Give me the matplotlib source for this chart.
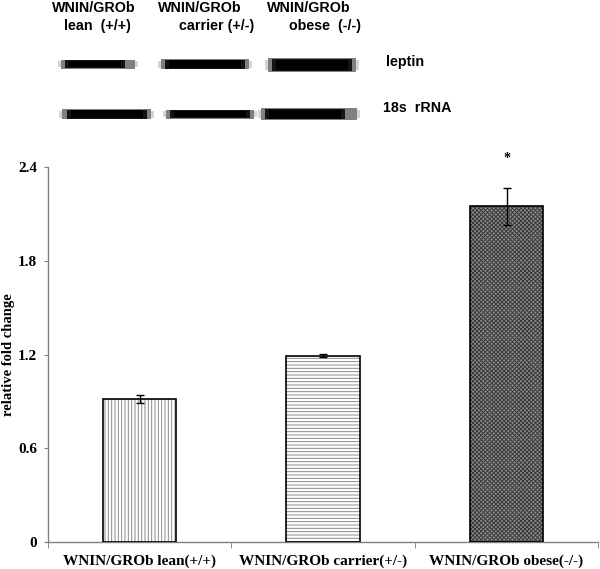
import matplotlib
matplotlib.use("Agg")
import matplotlib.pyplot as plt
from matplotlib.patches import Rectangle

groups = ['WNIN/GROb lean(+/+)', 'WNIN/GROb carrier(+/-)', 'WNIN/GROb obese(-/-)']
fold_change = [0.915, 1.192, 2.15]
fold_err = [0.027, 0.010, 0.118]
signif = ['', '', '*']

blot_heads = ['lean  (+/+)', 'carrier (+/-)', 'obese  (-/-)']
blot_rows = ['leptin', '18s  rRNA']

fig = plt.figure(figsize=(6, 5.69), dpi=100)

# top part: the blot picture, drawn in pixel coords
bg = fig.add_axes([0, 0, 1, 1])
bg.set_xlim(0, 600)
bg.set_ylim(569, 0)
bg.axis('off')

# (x0, x1, core x0, core x1, y centre, half height)
bands = [
    [(58, 138, 65, 125, 64, 4.5), (158, 252, 165, 245, 64, 5), (265, 359, 272, 352, 65, 7)],
    [(59, 154, 67, 147, 114, 5), (163, 257, 170, 250, 114, 4.5), (258, 360, 265, 345, 114, 6)],
]
for row in bands:
    for x0, x1, c0, c1, yc, h in row:
        bg.add_patch(Rectangle((x0, yc - h * 0.7), x1 - x0, h * 1.4, color='#d4d4d4', lw=0))
        bg.add_patch(Rectangle((x0 + 3, yc - h), x1 - x0 - 6, h * 2, color='#808080', lw=0))
        bg.add_patch(Rectangle((c0, yc - h * 0.9), c1 - c0, h * 1.8, color='#141414', lw=0))
        bg.add_patch(Rectangle((c0 + 4, yc - h * 0.75), c1 - c0 - 8, h * 1.5, color='#000000', lw=0))

head_x = [94, 200, 309]
sub_x = [97, 217, 325]
sans = dict(fontsize=10.3, fontweight='bold', family='Liberation Sans')
for i in range(3):
    bg.text(head_x[i], 8, 'WNIN/GROb', ha='center', va='center', **sans)
    bg.text(sub_x[i], 26, blot_heads[i], ha='center', va='center', **sans)
bg.text(386, 62, blot_rows[0], ha='left', va='center', **sans)
bg.text(383, 108, blot_rows[1], ha='left', va='center', **sans)

# bar chart
ax = fig.add_axes([0.08, 1 - 542 / 569, 0.917, 375 / 569])
x = [0.5, 1.5, 2.5]
hatches = ['|||||', '-----', 'xxxxxxxx']
faces = ['white', 'white', '#8c8c8c']
hatch_cols = ['#8a8a8a', '#8a8a8a', '#3a3a3a']
plt.rcParams['hatch.linewidth'] = 0.7
for i in range(3):
    ax.bar(x[i], fold_change[i], 0.4, color=faces[i], hatch=hatches[i],
           edgecolor=hatch_cols[i], lw=0, zorder=2)
    ax.bar(x[i], fold_change[i], 0.4, fill=False, edgecolor='black', lw=1.2, zorder=3)
ax.errorbar(x, fold_change, yerr=fold_err, fmt='none', ecolor='black',
            elinewidth=1, capsize=3, capthick=1, zorder=4)
for i in range(3):
    if signif[i]:
        ax.text(x[i], 2.41, signif[i], ha='center', va='bottom', fontsize=10,
                fontweight='bold', family='Liberation Serif', clip_on=False)

ax.set_xlim(0, 3)
ax.set_ylim(0, 2.4)
ax.set_yticks([0, 0.6, 1.2, 1.8, 2.4])
ax.set_yticklabels(['0', '0.6', '1.2', '1.8', '2.4'])
ax.set_xticks(x)
ax.set_xticklabels(groups)
ax.set_xticks([0, 1, 2, 3], minor=True)
ax.tick_params(axis='x', which='major', length=0, pad=9)
ax.tick_params(axis='x', which='minor', length=4, color='#808080')
ax.tick_params(axis='y', length=3, color='#808080', pad=5)
for lab in ax.get_xticklabels() + ax.get_yticklabels():
    lab.set_family('Liberation Serif')
    lab.set_fontweight('bold')
    lab.set_fontsize(11)
ax.set_ylabel('relative fold change', family='Liberation Serif', fontweight='bold',
              fontsize=10.5, va='center')
ax.yaxis.set_label_coords(-0.071, 0.5)
for s in ['top', 'right']:
    ax.spines[s].set_visible(False)
for s in ['left', 'bottom']:
    ax.spines[s].set_color('#808080')
    ax.spines[s].set_linewidth(1)

fig.savefig('out.png', dpi=100)
